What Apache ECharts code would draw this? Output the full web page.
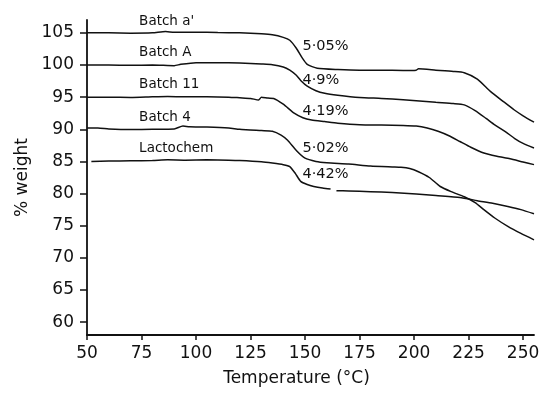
<!DOCTYPE html>
<html>
<head>
<meta charset="utf-8">
<script src="https://cdn.jsdelivr.net/npm/echarts@6/dist/echarts.min.js"></script>
<style>
html,body{margin:0;padding:0;background:#fff;}
#tga{width:544px;height:398px;}
</style>
</head>
<body>
<div id="tga"></div>
<script>
// 曲线名称与失重百分比
var seriesNames = ["Batch a'", 'Batch A', 'Batch 11', 'Batch 4', 'Lactochem'];
var lossLabels = ['5·05%', '4·9%', '4·19%', '5·02%', '4·42%'];

// 坐标轴刻度
var xTicks = [50, 75, 100, 125, 150, 175, 200, 225, 250];
var yTicks = [60, 65, 70, 75, 80, 85, 90, 95, 100, 105];

// Batch a'
var tempA1 = [50, 60, 70, 80, 86, 90, 100, 110, 120, 130, 135, 140, 143, 146, 148.7, 151, 155.6, 165, 175, 185, 195, 201, 202, 210, 218, 223, 229, 235, 241, 246, 250, 255];
var wtA1 = [105, 105, 104.95, 105, 105.2, 105.1, 105.1, 105.05, 105, 104.85, 104.7, 104.3, 103.85, 102.6, 101.1, 100.1, 99.5, 99.3, 99.2, 99.2, 99.15, 99.2, 99.4, 99.2, 99.0, 98.8, 97.8, 95.9, 94.3, 93.0, 92.1, 91.1];

// Batch A
var tempA = [50, 60, 70, 80, 90, 93, 100, 110, 120, 130, 135, 140, 143, 146, 148, 151, 155, 159, 165, 175, 185, 195, 201, 210, 218, 223, 228, 233, 237, 242, 246, 250, 255];
var wtA = [100, 100, 99.95, 100, 99.9, 100.1, 100.35, 100.35, 100.3, 100.15, 100.05, 99.7, 99.2, 98.4, 97.6, 96.7, 96.0, 95.6, 95.3, 94.95, 94.8, 94.6, 94.45, 94.2, 94.0, 93.8, 92.9, 91.7, 90.7, 89.6, 88.6, 87.8, 87.1];

// Batch 11
var temp11 = [50, 60, 70, 80, 87, 95, 105, 115, 120, 125, 128.7, 130, 133, 135.6, 140, 145, 149, 153, 159, 165, 175, 185, 195, 201, 206, 211, 216, 221, 226, 232, 238, 244, 250, 255];
var wt11 = [95, 95, 94.95, 95.05, 95.1, 95.05, 95.05, 95, 94.9, 94.8, 94.55, 95.0, 94.85, 94.8, 93.9, 92.5, 91.8, 91.45, 91.2, 90.95, 90.7, 90.65, 90.6, 90.5, 90.2, 89.7, 89.0, 88.1, 87.2, 86.3, 85.8, 85.4, 84.9, 84.5];

// Batch 4
var temp4 = [50, 55, 60, 70, 80, 90, 94, 97, 105, 115, 120, 130, 135, 139, 142, 146, 150, 155, 160, 170, 180, 190, 194, 198, 202, 207, 212, 217, 223, 228, 232, 237, 243, 249, 255];
var wt4 = [90.2, 90.2, 90.05, 89.95, 90, 90.05, 90.5, 90.4, 90.35, 90.2, 90.0, 89.8, 89.7, 89.1, 88.3, 86.7, 85.5, 85.0, 84.8, 84.6, 84.3, 84.15, 84.1, 83.9, 83.4, 82.5, 81.1, 80.3, 79.5, 78.6, 77.5, 76.2, 74.9, 73.8, 72.8];

// Lactochem（原图在 162 左右有一小段断开）
var tempL = [52, 60, 70, 80, 87, 95, 105, 115, 120, 130, 135, 140, 143, 145.6, 148, 151, 154, 158, 161.7, 163, 164.4, 170, 180, 190, 201, 210, 221, 229, 236, 243, 249, 255];
var wtL = [85, 85.05, 85.1, 85.15, 85.25, 85.2, 85.25, 85.2, 85.15, 84.95, 84.75, 84.5, 84.2, 83.1, 81.9, 81.4, 81.1, 80.85, 80.7, null, 80.45, 80.4, 80.3, 80.15, 79.95, 79.7, 79.4, 78.9, 78.5, 78.0, 77.5, 76.85];

var temps = [tempA1, tempA, temp11, temp4, tempL];
var weights = [wtA1, wtA, wt11, wt4, wtL];

var FONT = 'DejaVu Sans';

function pairs(t, w) {
    var out = [];
    for (var i = 0; i < t.length; i++) {
        out.push([t[i], w[i] == null ? '-' : w[i]]);
    }
    return out;
}

// 标注位置（数据坐标）
var nameAt = [[73.9, 106.76], [73.9, 101.93], [73.9, 96.95], [73.9, 91.8], [73.9, 86.97]];
var lossAt = [[148.8, 102.9], [148.8, 97.7], [148.8, 92.8], [148.8, 87.1], [148.8, 83.0]];

var series = [];
for (var k = 0; k < seriesNames.length; k++) {
    series.push({
        name: seriesNames[k],
        type: 'line',
        data: pairs(temps[k], weights[k]),
        showSymbol: false,
        connectNulls: false,
        smooth: 0.2,
        lineStyle: { color: '#111', width: 1.5 },
        emphasis: { disabled: true },
        markPoint: {
            symbol: 'circle',
            symbolSize: 0,
            silent: true,
            label: {
                show: true,
                position: 'right',
                distance: 0,
                color: '#111',
                fontFamily: FONT,
                fontSize: 14
            },
            data: [
                { coord: nameAt[k], value: seriesNames[k], label: { formatter: seriesNames[k], fontSize: 13.5 } },
                { coord: lossAt[k], value: lossLabels[k], label: { formatter: lossLabels[k], fontSize: 14.5 } }
            ]
        }
    });
}

var myChart = echarts.init(document.getElementById('tga'));
var option = {
    backgroundColor: '#fff',
    animation: false,
    grid: {
        left: 87, right: 10, top: 20, bottom: 63,
        containLabel: false,
        outerBoundsMode: 'none'
    },
    xAxis: {
        type: 'value',
        min: 50,
        max: 255,
        name: 'Temperature (°C)',
        nameLocation: 'middle',
        nameGap: 35,
        nameTextStyle: { color: '#111', fontFamily: FONT, fontSize: 17, padding: [0, 28, 0, 0] },
        axisLine: { lineStyle: { color: '#111', width: 1.8 } },
        axisTick: { show: true, length: 5, lineStyle: { color: '#111', width: 1.5 }, customValues: xTicks },
        axisLabel: { color: '#111', fontFamily: FONT, fontSize: 17, margin: 10, customValues: xTicks },
        splitLine: { show: false }
    },
    yAxis: {
        type: 'value',
        min: 58,
        max: 107,
        name: '% weight',
        nameLocation: 'middle',
        nameGap: 52,
        nameRotate: 90,
        nameTextStyle: { color: '#111', fontFamily: FONT, fontSize: 17 },
        axisLine: { show: true, lineStyle: { color: '#111', width: 1.8 } },
        axisTick: { show: true, length: 7, lineStyle: { color: '#111', width: 1.5 }, customValues: yTicks },
        axisLabel: { color: '#111', fontFamily: FONT, fontSize: 17, margin: 13, customValues: yTicks },
        splitLine: { show: false }
    },
    series: series
};
myChart.setOption(option);
</script>
</body>
</html>
